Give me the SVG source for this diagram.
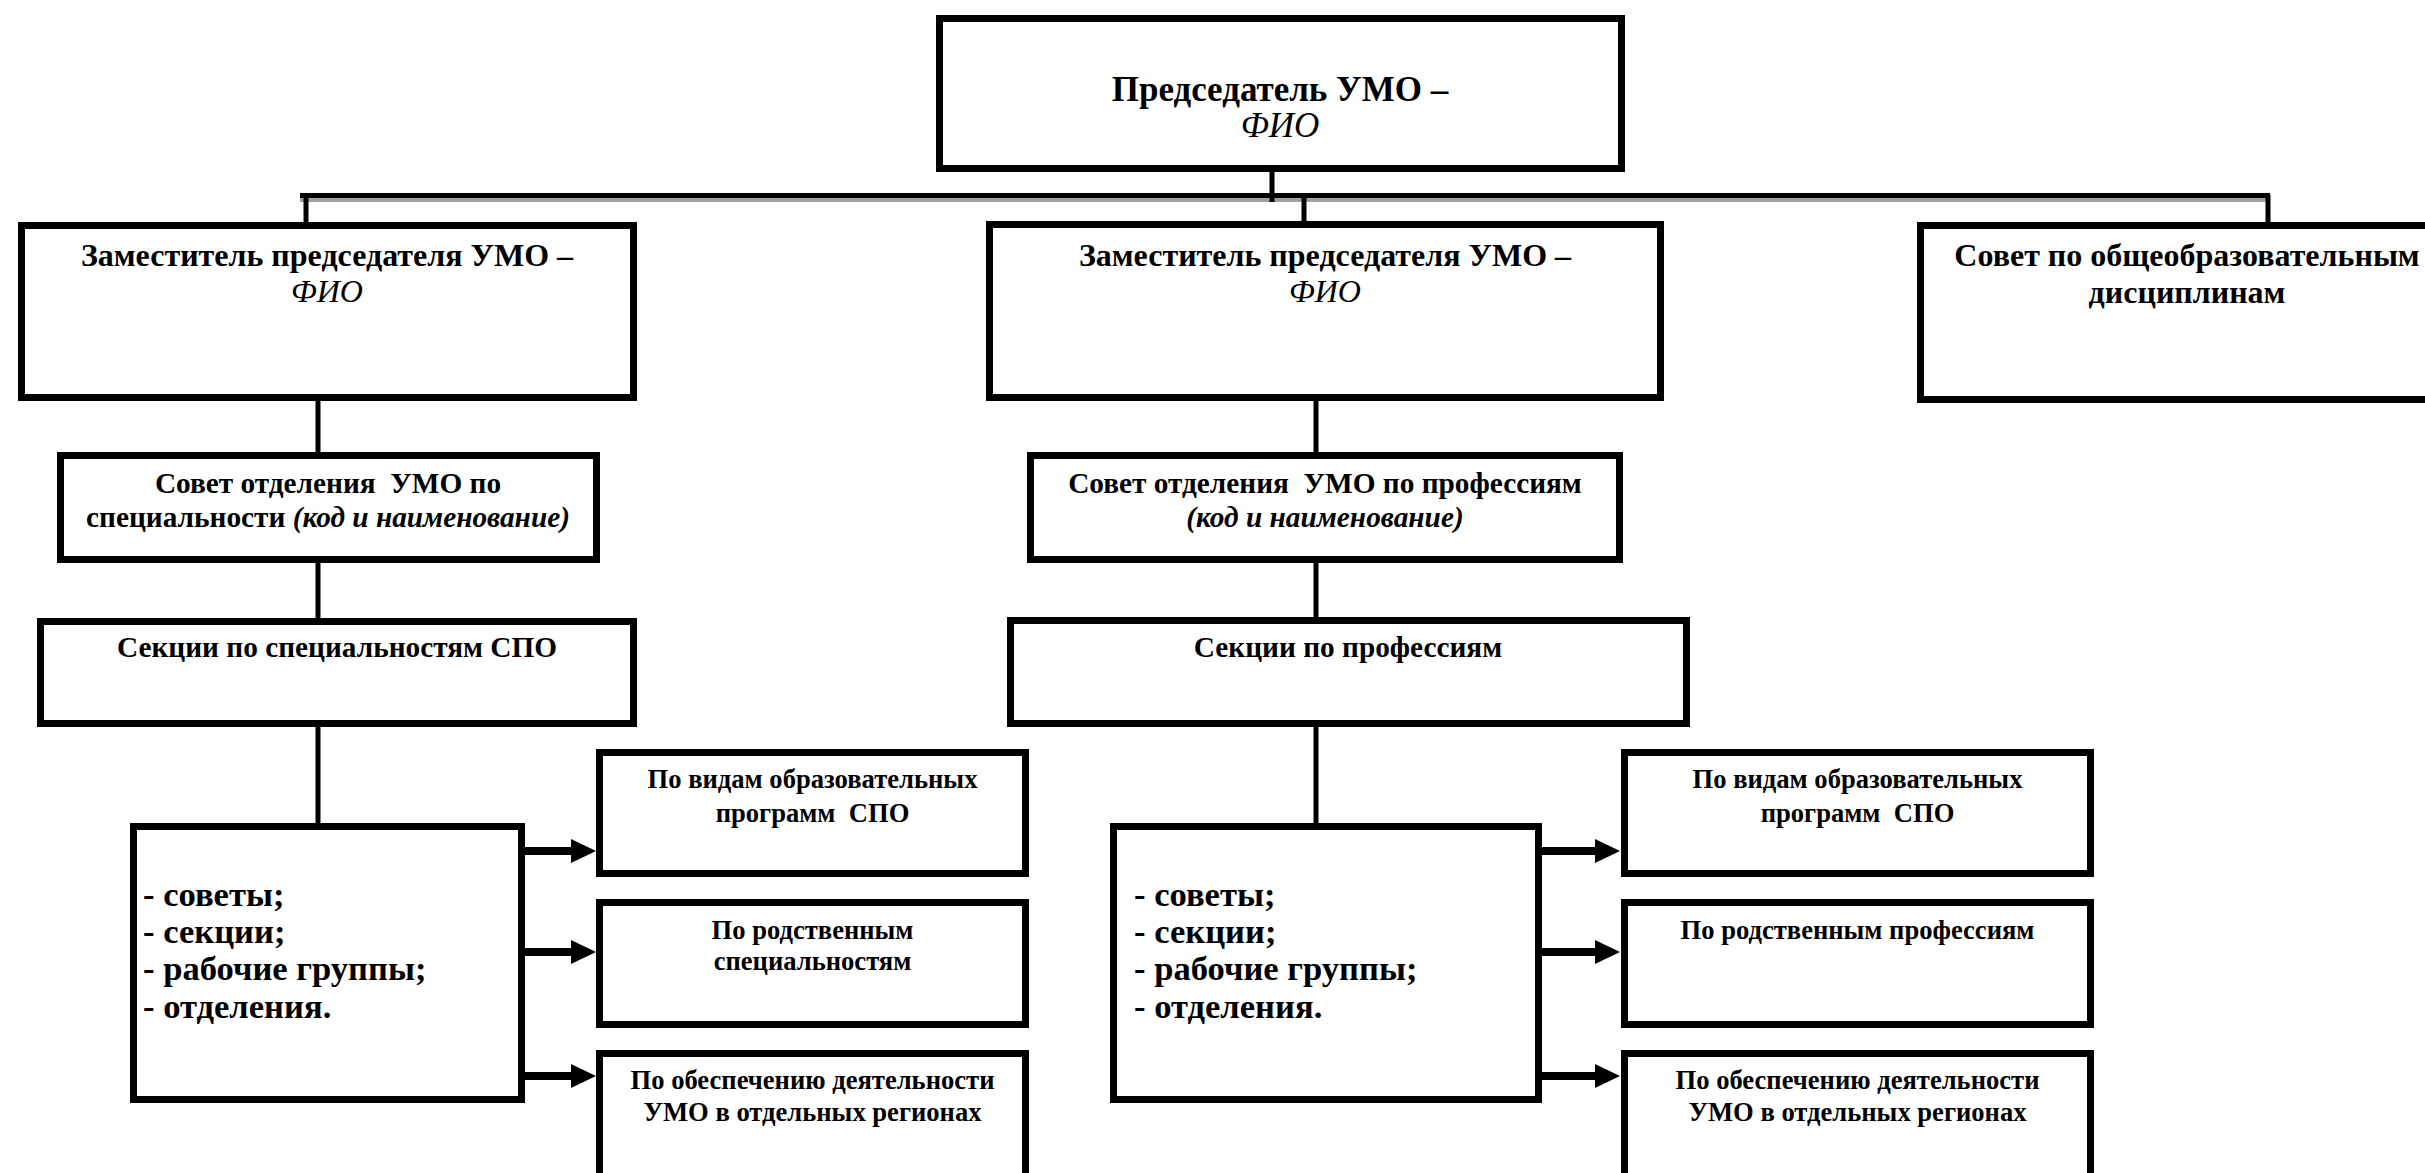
<svg xmlns="http://www.w3.org/2000/svg" width="2425" height="1173" viewBox="0 0 2425 1173" font-family="'Liberation Serif', 'DejaVu Serif', 'Times New Roman', serif">
<style>
.box{fill:#fff;stroke:#000;stroke-width:7}
.ln{stroke:#000;stroke-width:5;fill:none}
text{font-family:'Liberation Serif','DejaVu Serif','Times New Roman',serif;fill:#000;white-space:pre}
.b{font-weight:bold}
.i{font-style:italic}
.t0{font-size:35px;text-anchor:middle}
.t1{font-size:32px;text-anchor:middle}
.t2{font-size:29.3px;text-anchor:middle}
.t3{font-size:26.6px;text-anchor:middle}
.lst{font-size:34.6px;font-weight:bold}
.arr{fill:#000}
</style>
<rect width="2425" height="1173" fill="#fff"/>
<g id="connectors">
<rect x="300" y="198" width="1970" height="4" fill="#a0a0a0"/>
<line class="ln" x1="300" y1="195.5" x2="2270" y2="195.5"/>
<line class="ln" x1="1272" y1="172" x2="1272" y2="202"/>
<line class="ln" x1="306" y1="195" x2="306" y2="222"/>
<line class="ln" x1="1304" y1="198" x2="1304" y2="222"/>
<line class="ln" x1="2268" y1="195" x2="2268" y2="222"/>
<line class="ln" x1="318" y1="401" x2="318" y2="452"/>
<line class="ln" x1="318" y1="563" x2="318" y2="618"/>
<line class="ln" x1="318" y1="727" x2="318" y2="823"/>
<line class="ln" x1="1316" y1="401" x2="1316" y2="452"/>
<line class="ln" x1="1316" y1="563" x2="1316" y2="617"/>
<line class="ln" x1="1316" y1="727" x2="1316" y2="823"/>
<g class="arr">
<path d="M525 847H571V839L596 851L571 863V855H525Z"/>
<path d="M525 948H571V940L596 952L571 964V956H525Z"/>
<path d="M525 1072H571V1064L596 1076L571 1088V1080H525Z"/>
<path d="M1542 847H1595V839L1620 851L1595 863V855H1542Z"/>
<path d="M1542 948H1595V940L1620 952L1595 964V956H1542Z"/>
<path d="M1542 1072H1595V1064L1620 1076L1595 1088V1080H1542Z"/>
</g>
</g>
<g id="chair">
<rect class="box" x="939.5" y="18.5" width="682" height="150"/>
<text class="t0 b" x="1280" y="101">Председатель УМО –</text>
<text class="t0 i" x="1280" y="137">ФИО</text>
</g>
<g id="deputy-left">
<rect class="box" x="21.5" y="225.5" width="612" height="172"/>
<text class="t1 b" x="327" y="266">Заместитель председателя УМО –</text>
<text class="t1 i" x="327" y="302">ФИО</text>
</g>
<g id="deputy-center">
<rect class="box" x="989.5" y="224.5" width="671" height="173"/>
<text class="t1 b" x="1325" y="266">Заместитель председателя УМО –</text>
<text class="t1 i" x="1325" y="302">ФИО</text>
</g>
<g id="general-council">
<rect class="box" x="1920.5" y="225.5" width="540" height="174"/>
<text class="t1 b" x="2187" y="266">Совет по общеобразовательным</text>
<text class="t1 b" x="2187" y="303">дисциплинам</text>
</g>
<g id="council-left">
<rect class="box" x="60.5" y="455.5" width="536" height="104"/>
<text class="t2 b" x="328" y="493">Совет отделения  УМО по</text>
<text class="t2 b" x="328" y="527">специальности <tspan class="i">(код и наименование)</tspan></text>
</g>
<g id="council-center">
<rect class="box" x="1030.5" y="455.5" width="589" height="104"/>
<text class="t2 b" x="1325" y="493">Совет отделения  УМО по профессиям</text>
<text class="t2 b i" x="1325" y="527">(код и наименование)</text>
</g>
<g id="sections-left">
<rect class="box" x="40.5" y="621.5" width="593" height="102"/>
<text class="t2 b" x="337" y="657">Секции по специальностям СПО</text>
</g>
<g id="sections-center">
<rect class="box" x="1010.5" y="620.5" width="676" height="103"/>
<text class="t2 b" x="1348" y="657">Секции по профессиям</text>
</g>
<g id="list-left">
<rect class="box" x="133.5" y="826.5" width="388" height="273"/>
<text class="lst" x="143" y="906">- советы;</text>
<text class="lst" x="143" y="943">- секции;</text>
<text class="lst" x="143" y="980">- рабочие группы;</text>
<text class="lst" x="143" y="1018">- отделения.</text>
</g>
<g id="list-center">
<rect class="box" x="1113.5" y="826.5" width="425" height="273"/>
<text class="lst" x="1134" y="906">- советы;</text>
<text class="lst" x="1134" y="943">- секции;</text>
<text class="lst" x="1134" y="980">- рабочие группы;</text>
<text class="lst" x="1134" y="1018">- отделения.</text>
</g>
<g id="programs-left">
<rect class="box" x="599.5" y="752.5" width="426" height="121"/>
<text class="t3 b" x="812.5" y="788">По видам образовательных</text>
<text class="t3 b" x="812.5" y="822">программ  СПО</text>
</g>
<g id="related-left">
<rect class="box" x="599.5" y="902.5" width="426" height="122"/>
<text class="t3 b" x="812.5" y="939">По родственным</text>
<text class="t3 b" x="812.5" y="970">специальностям</text>
</g>
<g id="regions-left">
<rect class="box" x="599.5" y="1053.5" width="426" height="140"/>
<text class="t3 b" x="812.5" y="1089">По обеспечению деятельности</text>
<text class="t3 b" x="812.5" y="1121">УМО в отдельных регионах</text>
</g>
<g id="programs-right">
<rect class="box" x="1624.5" y="752.5" width="466" height="121"/>
<text class="t3 b" x="1857.5" y="788">По видам образовательных</text>
<text class="t3 b" x="1857.5" y="822">программ  СПО</text>
</g>
<g id="related-right">
<rect class="box" x="1624.5" y="902.5" width="466" height="122"/>
<text class="t3 b" x="1857.5" y="939">По родственным профессиям</text>
</g>
<g id="regions-right">
<rect class="box" x="1624.5" y="1053.5" width="466" height="140"/>
<text class="t3 b" x="1857.5" y="1089">По обеспечению деятельности</text>
<text class="t3 b" x="1857.5" y="1121">УМО в отдельных регионах</text>
</g>
</svg>
